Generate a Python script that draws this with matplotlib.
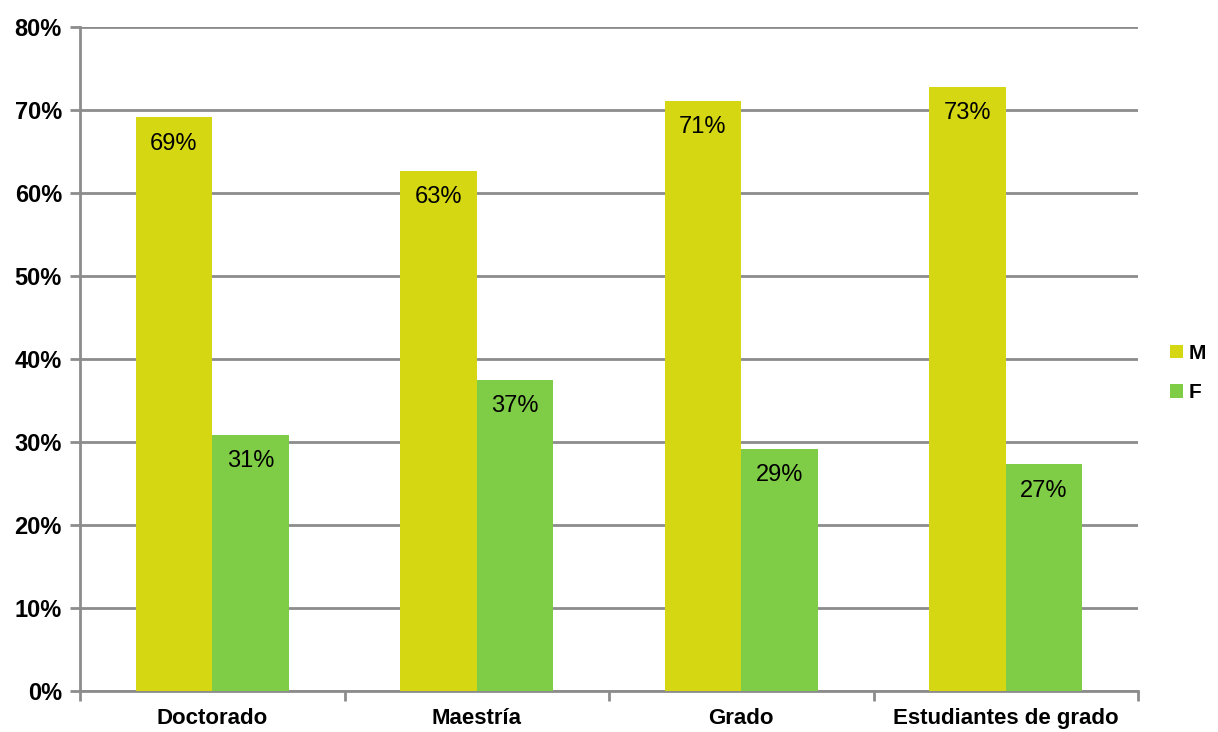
import numpy as np
import matplotlib.pyplot as plt
from matplotlib.ticker import PercentFormatter

# Data
categories = ["Doctorado", "Maestría", "Grado", "Estudiantes de grado"]
m_vals = [69.1, 62.7, 71.1, 72.8]
f_vals = [30.9, 37.5, 29.2, 27.3]
m_labels = ["69%", "63%", "71%", "73%"]
f_labels = ["31%", "37%", "29%", "27%"]

plt.rcParams['font.family'] = ['Liberation Sans', 'DejaVu Sans']

fig = plt.figure(figsize=(12.18, 7.32), dpi=100)
ax = fig.add_axes([80 / 1218, 1 - 691 / 732, (1138 - 80) / 1218, (691 - 27) / 732])

x = np.arange(len(categories))
w = 0.29
bars_m = ax.bar(x - w / 2, m_vals, w, color='#D4D712', label='M', zorder=3)
bars_f = ax.bar(x + w / 2, f_vals, w, color='#7FCD47', label='F', zorder=3)

for bars, labels in ((bars_m, m_labels), (bars_f, f_labels)):
    for b, lab in zip(bars, labels):
        ax.annotate(lab, (b.get_x() + b.get_width() / 2, b.get_height()),
                    xytext=(0, -19), textcoords='offset points',
                    ha='center', va='center', fontsize=17, zorder=4)

ax.set_xlim(-0.5, len(categories) - 0.5)
ax.set_ylim(0, 80)
ax.set_yticks(range(0, 81, 10))
ax.yaxis.set_major_formatter(PercentFormatter(decimals=0))
ax.grid(axis='y', color='#8c8c8c', linewidth=2, zorder=0)

# category boundary ticks on x axis
ax.set_xticks(np.arange(-0.5, len(categories), 1))
ax.set_xticklabels([])
ax.set_xticks(x, minor=True)
ax.set_xticklabels(categories, minor=True, fontsize=16, fontweight='bold')
ax.tick_params(axis='x', which='minor', length=0, pad=12)
ax.tick_params(axis='x', which='major', length=7, width=2, color='#8c8c8c')
ax.tick_params(axis='y', length=7, width=2, color='#8c8c8c', labelsize=17, pad=6)
for lab in ax.get_yticklabels():
    lab.set_fontweight('bold')

for side in ('top', 'right'):
    ax.spines[side].set_visible(False)
for side in ('left', 'bottom'):
    ax.spines[side].set_color('#8c8c8c')
    ax.spines[side].set_linewidth(2)

fig.legend(handles=[bars_m, bars_f], labels=['M', 'F'], loc='center left',
           bbox_to_anchor=(1170 / 1218, 1 - 373 / 732), frameon=False, borderpad=0,
           borderaxespad=0, handlelength=0.6, handleheight=0.6, handletextpad=0.3,
           labelspacing=1.0, prop={'size': 15, 'weight': 'bold'})

fig.savefig("out.png", dpi=100)
